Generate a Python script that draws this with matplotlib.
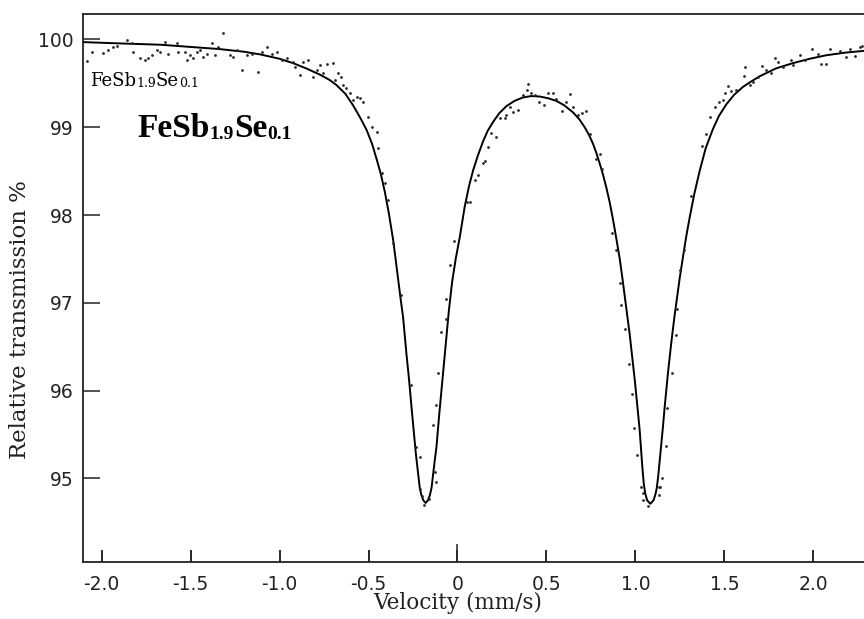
import matplotlib
matplotlib.use("Agg")
import matplotlib.pyplot as plt
import matplotlib.transforms as mtransforms

# Measured spectrum: velocity (mm/s) and relative transmission (%)
vel_data = [
    -2.084, -2.056, -1.991, -1.963, -1.935, -1.916, -1.860, -1.831, -1.822, -1.785,
    -1.757, -1.738, -1.719, -1.691, -1.672, -1.644, -1.626, -1.579, -1.570, -1.532,
    -1.522, -1.504, -1.485, -1.466, -1.448, -1.429, -1.410, -1.382, -1.363, -1.345,
    -1.317, -1.279, -1.261, -1.242, -1.213, -1.185, -1.157, -1.120, -1.101, -1.073,
    -1.045, -1.017, -0.989, -0.961, -0.924, -0.914, -0.886, -0.867, -0.839, -0.811,
    -0.792, -0.774, -0.755, -0.736, -0.699, -0.689, -0.671, -0.652, -0.643, -0.624,
    -0.605, -0.587, -0.567, -0.549, -0.530, -0.502, -0.483, -0.455, -0.446, -0.427,
    -0.408, -0.390, -0.362, -0.315, -0.264, -0.234, -0.212, -0.208, -0.200, -0.190,
    -0.160, -0.122, -0.124, -0.140, -0.122, -0.112, -0.092, -0.066, -0.062, -0.043,
    -0.020, 0.051, 0.069, 0.097, 0.116, 0.144, 0.153, 0.172, 0.191, 0.219,
    0.238, 0.266, 0.275, 0.294, 0.312, 0.341, 0.369, 0.388, 0.397, 0.416,
    0.434, 0.457, 0.485, 0.509, 0.537, 0.556, 0.590, 0.608, 0.631, 0.649,
    0.678, 0.702, 0.721, 0.747, 0.781, 0.799, 0.815, 0.871, 0.893, 0.912,
    0.921, 0.942, 0.962, 0.983, 0.992, 1.011, 1.034, 1.043, 1.043, 1.071,
    1.133, 1.137, 1.133, 1.152, 1.174, 1.180, 1.204, 1.226, 1.234, 1.249,
    1.271, 1.311, 1.374, 1.399, 1.417, 1.446, 1.470, 1.492, 1.502, 1.520,
    1.539, 1.567, 1.608, 1.618, 1.642, 1.661, 1.689, 1.711, 1.736, 1.764,
    1.783, 1.801, 1.829, 1.876, 1.885, 1.923, 1.951, 1.994, 2.026, 2.045,
    2.069, 2.092, 2.148, 2.185, 2.208, 2.232, 2.260, 2.275,
]
trans_data = [
    99.753, 99.859, 99.847, 99.878, 99.916, 99.924, 99.992, 99.954, 99.859, 99.784,
    99.764, 99.784, 99.821, 99.878, 99.859, 99.973, 99.840, 99.954, 99.859, 99.859,
    99.764, 99.821, 99.784, 99.859, 99.878, 99.802, 99.840, 99.954, 99.821, 99.916,
    100.068, 99.821, 99.802, 99.878, 99.650, 99.821, 99.840, 99.631, 99.859, 99.916,
    99.840, 99.859, 99.764, 99.784, 99.745, 99.688, 99.593, 99.745, 99.764, 99.574,
    99.650, 99.707, 99.613, 99.726, 99.734, 99.536, 99.613, 99.574, 99.480, 99.442,
    99.385, 99.309, 99.346, 99.328, 99.289, 99.118, 99.005, 98.948, 98.759, 98.474,
    98.360, 98.170, 97.677, 97.088, 96.063, 95.360, 95.246, 94.875, 94.800, 94.700,
    94.760, 94.961, 95.075, 95.607, 95.835, 96.196, 96.663, 96.811, 97.042, 97.430,
    97.700, 98.150, 98.150, 98.398, 98.454, 98.588, 98.614, 98.777, 98.929, 98.891,
    99.100, 99.100, 99.138, 99.232, 99.175, 99.195, 99.366, 99.423, 99.491, 99.385,
    99.366, 99.289, 99.252, 99.385, 99.385, 99.317, 99.187, 99.289, 99.374, 99.232,
    99.138, 99.164, 99.183, 98.918, 98.633, 98.694, 98.523, 97.790, 97.600, 97.228,
    96.974, 96.697, 96.298, 95.957, 95.576, 95.265, 94.904, 94.830, 94.750, 94.680,
    94.810, 94.900, 94.904, 95.007, 95.371, 95.804, 96.196, 96.632, 96.925, 97.372,
    97.600, 98.215, 98.788, 98.918, 99.112, 99.232, 99.289, 99.309, 99.385, 99.472,
    99.415, 99.423, 99.582, 99.681, 99.480, 99.518, 99.574, 99.696, 99.650, 99.613,
    99.784, 99.745, 99.688, 99.764, 99.707, 99.821, 99.764, 99.890, 99.840, 99.719,
    99.719, 99.890, 99.870, 99.795, 99.886, 99.810, 99.916, 99.927,
]

# Fitted doublet envelope
vel_fit = [
    -2.105, -1.900, -1.670, -1.500, -1.335, -1.200, -1.110, -1.000, -0.924, -0.850,
    -0.774, -0.720, -0.680, -0.630, -0.587, -0.550, -0.511, -0.480, -0.455, -0.430,
    -0.408, -0.385, -0.362, -0.348, -0.334, -0.320, -0.306, -0.296, -0.287, -0.272,
    -0.258, -0.245, -0.234, -0.222, -0.212, -0.203, -0.192, -0.179, -0.166, -0.155,
    -0.146, -0.137, -0.128, -0.118, -0.103, -0.087, -0.076, -0.066, -0.049, -0.030,
    -0.010, 0.013, 0.041, 0.065, 0.088, 0.115, 0.144, 0.170, 0.200, 0.235,
    0.275, 0.320, 0.369, 0.415, 0.462, 0.510, 0.556, 0.600, 0.649, 0.685,
    0.715, 0.740, 0.762, 0.780, 0.799, 0.818, 0.837, 0.856, 0.874, 0.893,
    0.912, 0.927, 0.940, 0.955, 0.968, 0.978, 0.987, 0.997, 1.006, 1.015,
    1.024, 1.032, 1.039, 1.047, 1.055, 1.066, 1.084, 1.102, 1.113, 1.121,
    1.129, 1.137, 1.146, 1.155, 1.164, 1.174, 1.183, 1.193, 1.202, 1.211,
    1.220, 1.230, 1.249, 1.268, 1.287, 1.305, 1.330, 1.361, 1.395, 1.436,
    1.470, 1.511, 1.555, 1.605, 1.650, 1.698, 1.790, 1.885, 1.980, 2.073,
    2.180, 2.285,
]
trans_fit = [
    99.97, 99.955, 99.94, 99.915, 99.89, 99.86, 99.83, 99.78, 99.73, 99.67,
    99.60, 99.54, 99.48, 99.38, 99.25, 99.12, 98.97, 98.81, 98.64, 98.46,
    98.26, 98.01, 97.72, 97.50, 97.27, 97.05, 96.84, 96.62, 96.42, 96.12,
    95.80, 95.52, 95.28, 95.07, 94.89, 94.81, 94.75, 94.72, 94.75, 94.81,
    94.89, 95.05, 95.20, 95.36, 95.72, 96.07, 96.32, 96.54, 96.90, 97.24,
    97.50, 97.75, 98.10, 98.33, 98.51, 98.68, 98.84, 98.96, 99.06, 99.16,
    99.24, 99.30, 99.34, 99.355, 99.35, 99.33, 99.30, 99.25, 99.17, 99.09,
    99.00, 98.91, 98.81, 98.71, 98.59, 98.46, 98.31, 98.14, 97.95, 97.73,
    97.50, 97.28, 97.08, 96.85, 96.64, 96.46, 96.30, 96.11, 95.93, 95.74,
    95.55, 95.33, 95.13, 94.94, 94.83, 94.75, 94.71, 94.75, 94.82, 94.90,
    95.04, 95.21, 95.40, 95.59, 95.80, 96.01, 96.20, 96.39, 96.55, 96.70,
    96.85, 97.00, 97.28, 97.53, 97.77, 97.97, 98.23, 98.50, 98.76, 98.98,
    99.13, 99.26, 99.37, 99.46, 99.52, 99.58, 99.67, 99.73, 99.78, 99.82,
    99.85, 99.87,
]

x_ticks = [-2.0, -1.5, -1.0, -0.5, 0.0, 0.5, 1.0, 1.5, 2.0]
x_ticklabels = ["-2.0", "-1.5", "-1.0", "-0.5", "0", "0.5", "1.0", "1.5", "2.0"]
y_ticks = [95, 96, 97, 98, 99, 100]
y_ticklabels = ["95", "96", "97", "98", "99", "100"]

DPI = 100
fig = plt.figure(figsize=(8.64, 6.19), dpi=DPI)
ax = fig.add_axes([83 / 864, 57 / 619, 1 - 83 / 864, (562 - 14) / 619])

ax.plot(vel_fit, trans_fit, color="black", lw=1.4, zorder=3)
ax.plot(vel_data, trans_data, ls="none", marker="o", ms=2.0, mfc="#2a2a2a",
        mec="#2a2a2a", mew=0, zorder=4)

ax.set_xlim(-2.105, 2.285)
ax.set_ylim(94.047, 100.29)

for side in ("left", "bottom", "top"):
    ax.spines[side].set_linewidth(1.3)
    ax.spines[side].set_color("#222222")
ax.spines["right"].set_visible(False)

tick_font = dict(family="DejaVu Sans", size=13.5, color="#222222")
ax.set_xticks(x_ticks, x_ticklabels, **tick_font)
ax.set_yticks(y_ticks, y_ticklabels, **tick_font)
ax.tick_params(axis="x", which="major", direction="in", length=8.6, width=1.1,
               pad=9, color="#222222")
ax.tick_params(axis="y", which="major", direction="in", length=12.2, width=1.1,
               pad=7, color="#222222")
# short inward marks at every velocity tick (minor locator, no labels)
ax.xaxis.remove_overlapping_locs = False
ax.set_xticks(x_ticks, minor=True)
ax.tick_params(axis="x", which="minor", direction="in", length=8.6, width=1.1,
               color="#222222")
# the zero-velocity tick is drawn a little longer
for i, tick in enumerate(ax.xaxis.get_major_ticks()):
    tick.tick1line.set_markersize(13 if x_ticks[i] == 0.0 else 8.6)

fig.text(458 / 864, 1 - 603 / 619, "Velocity (mm/s)", family="DejaVu Serif",
         size=15.5, ha="center", va="center", color="#222222")
fig.text(20 / 864, 1 - 320 / 619, "Relative transmission %", family="DejaVu Serif",
         size=16.5, ha="center", va="center", rotation=90, color="#222222")


def chem_label(x, y, parts, family, weight):
    """Draw a formula with lowered, smaller index groups, piece by piece."""
    renderer = fig.canvas.get_renderer()
    dx = 0.0
    for text, size, drop in parts:
        tr = mtransforms.offset_copy(ax.transData, fig=fig, x=dx, y=-drop, units="dots")
        t = ax.text(x, y, text, transform=tr, family=family, weight=weight,
                    size=size, va="baseline", ha="left", color="black")
        dx += t.get_window_extent(renderer).width


chem_label(-2.066, 99.468,
           [("FeSb", 13, 0), ("1.9", 9, 1), ("Se", 13, 0), ("0.1", 9, 1)],
           "DejaVu Serif", "normal")
chem_label(-1.80, 98.89,
           [("FeSb", 24, 0), ("1.9", 14, 2), ("Se", 24, 0), ("0.1", 14, 2)],
           "Liberation Serif", "bold")

fig.savefig("out.png", dpi=DPI)
